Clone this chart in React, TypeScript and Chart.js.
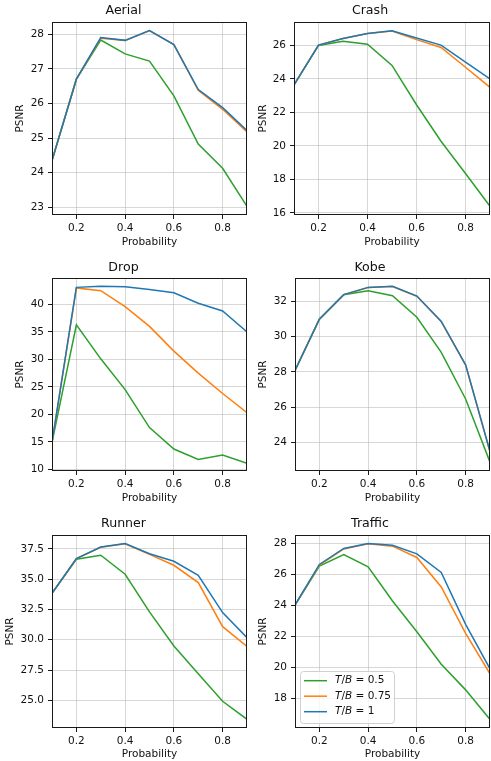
import React, { useEffect, useRef } from "react";
import { Chart, registerables } from "chart.js";

Chart.register(...registerables);

// ---------------- data ----------------
const probability = [0.1, 0.2, 0.3, 0.4, 0.5, 0.6, 0.7, 0.8, 0.9];
const xTickLabels = ["0.2", "0.4", "0.6", "0.8"];
const seriesLabels = ["T/B = 0.5", "T/B = 0.75", "T/B = 1"];

const aerialTB05 = [24.35, 26.7, 27.83, 27.43, 27.22, 26.22, 24.83, 24.13, 23.03];
const aerialTB075 = [24.35, 26.7, 27.88, 27.82, 28.1, 27.7, 26.38, 25.83, 25.18];
const aerialTB1 = [24.35, 26.7, 27.9, 27.82, 28.1, 27.7, 26.4, 25.88, 25.22];
const aerialYTicks = ["23", "24", "25", "26", "27", "28"];
const aerialRange = [22.78, 28.35];

const crashTB05 = [23.65, 26.0, 26.25, 26.07, 24.81, 22.46, 20.28, 18.36, 16.4];
const crashTB075 = [23.65, 26.02, 26.42, 26.72, 26.86, 26.35, 25.88, 24.7, 23.5];
const crashTB1 = [23.65, 26.02, 26.42, 26.72, 26.88, 26.45, 26.02, 25.0, 24.0];
const crashYTicks = ["16", "18", "20", "22", "24", "26"];
const crashRange = [15.88, 27.4];

const dropTB05 = [14.9, 36.3, 30.1, 24.5, 17.6, 13.7, 11.8, 12.6, 11.1];
const dropTB075 = [14.9, 43.0, 42.5, 39.6, 36.0, 31.5, 27.5, 23.8, 20.3];
const dropTB1 = [14.9, 43.1, 43.3, 43.2, 42.7, 42.1, 40.2, 38.8, 35.0];
const dropYTicks = ["10", "15", "20", "25", "30", "35", "40"];
const dropRange = [9.7, 44.8];

const kobeTB05 = [28.08, 30.97, 32.36, 32.58, 32.3, 31.08, 29.1, 26.47, 22.9];
const kobeTB075 = [28.08, 30.97, 32.36, 32.76, 32.82, 32.27, 30.84, 28.38, 23.48];
const kobeTB1 = [28.08, 30.97, 32.36, 32.77, 32.83, 32.28, 30.85, 28.4, 23.5];
const kobeYTicks = ["24", "26", "28", "30", "32"];
const kobeRange = [22.4, 33.3];

const runnerTB05 = [33.84, 36.65, 36.98, 35.41, 32.3, 29.48, 27.2, 24.92, 23.43];
const runnerTB075 = [33.84, 36.7, 37.64, 37.92, 37.05, 36.15, 34.72, 31.08, 29.45];
const runnerTB1 = [33.84, 36.7, 37.66, 37.94, 37.1, 36.48, 35.32, 32.24, 30.17];
const runnerYTicks = ["25.0", "27.5", "30.0", "32.5", "35.0", "37.5"];
const runnerRange = [22.71, 38.65];

const trafficTB05 = [24.03, 26.54, 27.29, 26.5, 24.29, 22.31, 20.21, 18.56, 16.65];
const trafficTB075 = [24.03, 26.6, 27.65, 27.98, 27.83, 27.1, 25.2, 22.2, 19.6];
const trafficTB1 = [24.03, 26.65, 27.68, 28.0, 27.89, 27.33, 26.13, 22.79, 19.91];
const trafficYTicks = ["18", "20", "22", "24", "26", "28"];
const trafficRange = [16.1, 28.55];

// ---------------- styles / layout ----------------
const seriesColors = ["#2ca02c", "#ff7f0e", "#1f77b4"];
const FONT = "DejaVu Sans";
const TEXT = "#111111";
const SPINE = "#1a1a1a";
const GRID = "rgba(176,176,176,0.5)";
const TITLE_SIZE = 12.6;
const TICK_SIZE = 10.5;
const TITLE_HALF = (TITLE_SIZE * 1.2) / 2;
const LABEL_HALF = (TICK_SIZE * 1.2) / 2;

type Panel = {
  title: string;
  series: number[][];
  yTicks: string[];
  range: number[];
  legend?: boolean;
  box: { x: number; y: number; w: number; h: number; L: number; R: number; T: number; B: number; TY: number; XL: number; YL: number };
};

const panels: Panel[] = [
  { title: "Aerial", series: [aerialTB05, aerialTB075, aerialTB1], yTicks: aerialYTicks, range: aerialRange,
    box: { x: 0, y: 0, w: 250, h: 255, L: 52, R: 247, T: 22, B: 215, TY: 11, XL: 242, YL: 20 } },
  { title: "Crash", series: [crashTB05, crashTB075, crashTB1], yTicks: crashYTicks, range: crashRange,
    box: { x: 250, y: 0, w: 241, h: 255, L: 44, R: 240, T: 22, B: 215, TY: 11, XL: 242, YL: 13 } },
  { title: "Drop", series: [dropTB05, dropTB075, dropTB1], yTicks: dropYTicks, range: dropRange,
    box: { x: 0, y: 255, w: 250, h: 250, L: 52, R: 247, T: 23, B: 216, TY: 12.5, XL: 244, YL: 20 } },
  { title: "Kobe", series: [kobeTB05, kobeTB075, kobeTB1], yTicks: kobeYTicks, range: kobeRange,
    box: { x: 250, y: 255, w: 241, h: 250, L: 45, R: 240, T: 23, B: 216, TY: 12.5, XL: 244, YL: 13.3 } },
  { title: "Runner", series: [runnerTB05, runnerTB075, runnerTB1], yTicks: runnerYTicks, range: runnerRange,
    box: { x: 0, y: 505, w: 250, h: 256, L: 52, R: 247, T: 30, B: 223, TY: 19, XL: 250, YL: 10 } },
  { title: "Traffic", series: [trafficTB05, trafficTB075, trafficTB1], yTicks: trafficYTicks, range: trafficRange, legend: true,
    box: { x: 250, y: 505, w: 241, h: 256, L: 45, R: 240, T: 30, B: 223, TY: 19, XL: 250, YL: 13.3 } },
];

// ---------------- plugins ----------------
const framePlugin = {
  id: "frame",
  afterDatasetsDraw(chart: any) {
    const { ctx, chartArea } = chart;
    const { left, top, right, bottom } = chartArea;
    ctx.save();
    ctx.strokeStyle = SPINE;
    ctx.lineWidth = 1;
    ctx.strokeRect(Math.round(left) + 0.5, Math.round(top) + 0.5, Math.round(right - left) - 1, Math.round(bottom - top) - 1);
    ctx.restore();
  },
};

function drawMathLabel(ctx: CanvasRenderingContext2D, text: string, x: number, y: number, size: number) {
  let cx = x;
  for (const ch of text) {
    const italic = /[A-Za-z]/.test(ch);
    ctx.font = `${italic ? "italic " : ""}${size}px "${FONT}"`;
    ctx.fillText(ch, cx, y);
    cx += ctx.measureText(ch).width;
  }
}

const innerLegendPlugin = {
  id: "innerLegend",
  afterDraw(chart: any) {
    const { ctx, chartArea } = chart;
    const bw = 94;
    const bh = 52;
    const bx = chartArea.left + 5;
    const by = chartArea.bottom - 5 - bh;
    ctx.save();
    ctx.beginPath();
    if ((ctx as any).roundRect) (ctx as any).roundRect(bx + 0.5, by + 0.5, bw, bh, 3);
    else ctx.rect(bx + 0.5, by + 0.5, bw, bh);
    ctx.fillStyle = "rgba(255,255,255,0.8)";
    ctx.fill();
    ctx.strokeStyle = "#d0d0d0";
    ctx.lineWidth = 1;
    ctx.stroke();
    const rows = [9.7, 25.2, 40.7];
    chart.data.datasets.forEach((ds: any, i: number) => {
      const ry = by + rows[i];
      ctx.beginPath();
      ctx.strokeStyle = ds.borderColor;
      ctx.lineWidth = 1.5;
      ctx.moveTo(bx + 4, ry);
      ctx.lineTo(bx + 27, ry);
      ctx.stroke();
      ctx.fillStyle = TEXT;
      ctx.textBaseline = "middle";
      ctx.textAlign = "left";
      drawMathLabel(ctx, ds.label, bx + 35, ry, TICK_SIZE);
    });
    ctx.restore();
  },
};

// ---------------- components ----------------
function PanelChart({ p }: { p: Panel }) {
  const ref = useRef<HTMLCanvasElement>(null);
  useEffect(() => {
    const b = p.box;
    const yVals = p.yTicks.map((s) => parseFloat(s));
    const xVals = xTickLabels.map((s) => parseFloat(s));
    const tickFont = { family: FONT, size: TICK_SIZE };
    const chart = new Chart(ref.current!, {
      type: "line",
      data: {
        datasets: p.series.map((s, i) => ({
          label: seriesLabels[i],
          data: probability.map((x, j) => ({ x, y: s[j] })),
          borderColor: seriesColors[i],
          backgroundColor: seriesColors[i],
          borderWidth: 1.5,
          pointRadius: 0,
          pointHoverRadius: 0,
          tension: 0,
          fill: false,
          order: 3 - i,
        })),
      },
      options: {
        responsive: false,
        animation: false,
        devicePixelRatio: 1,
        events: [],
        layout: { padding: { left: 0, top: 0, right: b.w - b.R, bottom: 0 } },
        plugins: {
          legend: { display: false },
          tooltip: { enabled: false },
          title: {
            display: true,
            text: p.title,
            color: TEXT,
            font: { family: FONT, size: TITLE_SIZE, weight: "normal" },
            padding: { top: b.TY - TITLE_HALF, bottom: b.T - b.TY - TITLE_HALF },
          },
        },
        scales: {
          x: {
            type: "linear",
            min: probability[0],
            max: probability[probability.length - 1],
            afterBuildTicks: (s: any) => {
              s.ticks = xVals.map((v) => ({ value: v }));
            },
            afterFit: (s: any) => {
              s.height = b.h - b.B;
            },
            ticks: {
              callback: (_v: any, i: number) => xTickLabels[i],
              font: tickFont,
              color: TEXT,
              padding: 3,
              maxRotation: 0,
              autoSkip: false,
            },
            grid: { color: GRID, lineWidth: 1, tickColor: SPINE, tickLength: 4, tickWidth: 1 },
            border: { display: false },
            title: {
              display: true,
              text: "Probability",
              color: TEXT,
              font: tickFont,
              padding: { top: 0, bottom: Math.max(0, b.h - b.XL - LABEL_HALF) },
            },
          },
          y: {
            type: "linear",
            min: p.range[0],
            max: p.range[1],
            afterBuildTicks: (s: any) => {
              s.ticks = yVals.map((v) => ({ value: v }));
            },
            afterFit: (s: any) => {
              s.width = b.L;
            },
            ticks: {
              callback: (_v: any, i: number) => p.yTicks[i],
              font: tickFont,
              color: TEXT,
              padding: 4,
              autoSkip: false,
            },
            grid: { color: GRID, lineWidth: 1, tickColor: SPINE, tickLength: 4, tickWidth: 1 },
            border: { display: false },
            title: {
              display: true,
              text: "PSNR",
              color: TEXT,
              font: tickFont,
              padding: { top: Math.max(0, b.YL - LABEL_HALF), bottom: 0 },
            },
          },
        },
      } as any,
      plugins: p.legend ? [framePlugin, innerLegendPlugin] : [framePlugin],
    });
    return () => chart.destroy();
  }, [p]);
  const b = p.box;
  return (
    <canvas
      ref={ref}
      width={b.w}
      height={b.h}
      style={{ position: "absolute", left: b.x, top: b.y, width: b.w, height: b.h }}
    />
  );
}

export default function App() {
  return (
    <div style={{ position: "absolute", left: 0, top: 0, width: 491, height: 761, background: "#ffffff", overflow: "hidden" }}>
      {panels.map((p) => (
        <PanelChart key={p.title} p={p} />
      ))}
    </div>
  );
}
